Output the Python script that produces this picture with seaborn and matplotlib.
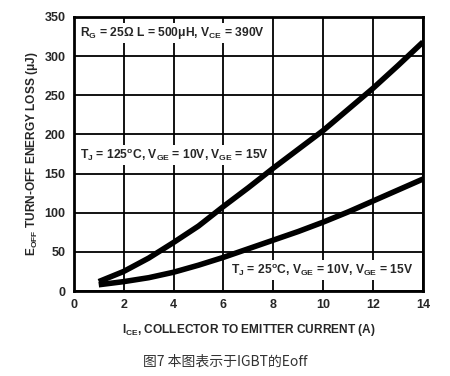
import pandas as pd
import seaborn as sns
import matplotlib.pyplot as plt

# Eoff vs Ice
ice = [1, 2, 3, 4, 5, 6, 7, 8, 9, 10, 11, 12, 13, 14]
eoff_125 = [12, 25, 42, 62, 83, 108, 132, 157, 181, 205, 232, 259, 288, 318]
eoff_25 = [8, 12, 17, 24, 33, 43, 54, 65, 76, 88, 101, 115, 129, 143]

df = pd.DataFrame({
    'ice': ice * 2,
    'eoff': eoff_125 + eoff_25,
    'cond': ['125C'] * len(ice) + ['25C'] * len(ice),
})

sns.set_style('white')
plt.rcParams['font.family'] = ['Liberation Sans', 'DejaVu Sans']
plt.rcParams['mathtext.fontset'] = 'custom'
plt.rcParams['mathtext.rm'] = 'Liberation Sans:bold'
plt.rcParams['mathtext.it'] = 'Liberation Sans:bold'
plt.rcParams['mathtext.bf'] = 'Liberation Sans:bold'

fig = plt.figure(figsize=(4.5, 3.76), dpi=100)
ax = fig.add_axes([0.164, 0.226, 0.776, 0.729])

sns.lineplot(data=df, x='ice', y='eoff', hue='cond', palette=['black', 'black'],
             linewidth=4, legend=False, ax=ax, solid_capstyle='butt')

ax.set_xlim(0, 14)
ax.set_ylim(0, 350)
ax.set_xticks(range(0, 15, 2))
ax.set_yticks(range(0, 351, 50))
ax.grid(True, color='black', linewidth=1.3)
ax.set_axisbelow(True)
for s in ax.spines.values():
    s.set_linewidth(2)
    s.set_color('black')
ax.tick_params(length=0, labelsize=9, pad=6)
for lab in ax.get_xticklabels() + ax.get_yticklabels():
    lab.set_fontweight('bold')

ax.set_xlabel(r'I$_{CE}$, COLLECTOR TO EMITTER CURRENT (A)', fontsize=8.6, fontweight='bold', labelpad=8)
ax.set_ylabel(r'E$_{OFF}$ TURN-OFF ENERGY LOSS ($\mu$J)', fontsize=8.6, fontweight='bold', labelpad=3)

box = dict(facecolor='white', edgecolor='none', pad=1.5)
ax.text(0.25, 330, r'R$_{G}$ = 25$\Omega$ L = 500$\mu$H, V$_{CE}$ = 390V', fontsize=8.7,
        fontweight='bold', va='center', bbox=box)
ax.text(0.25, 174, r'T$_{J}$ = 125$^{o}$C, V$_{GE}$ = 10V, V$_{GE}$ = 15V', fontsize=8.7,
        fontweight='bold', va='center', bbox=box)
ax.text(6.3, 27, r'T$_{J}$ = 25$^{o}$C, V$_{GE}$ = 10V, V$_{GE}$ = 15V', fontsize=8.7,
        fontweight='bold', va='center', bbox=box)

fig.text(0.5, 0.037, '图7 本图表示于IGBT的Eoff', ha='center', va='center', fontsize=10,
         color='#333333', family=['Noto Sans CJK SC', 'DejaVu Sans'])

fig.savefig('out.png', dpi=100)
